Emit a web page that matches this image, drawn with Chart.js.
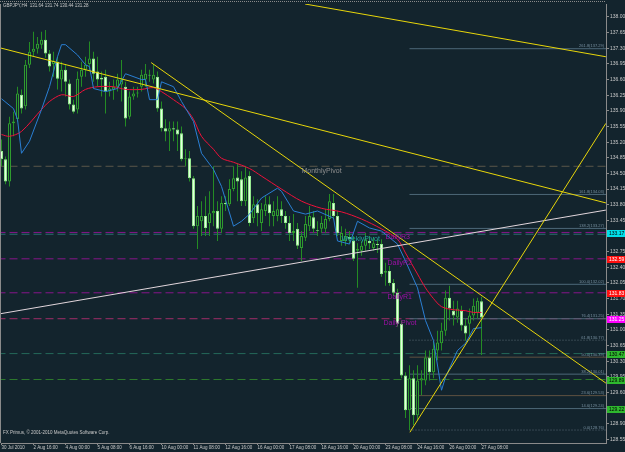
<!DOCTYPE html>
<html>
<head>
<meta charset="utf-8">
<script src="https://cdn.jsdelivr.net/npm/chart.js@4.4.1/dist/chart.umd.min.js"></script>
<style>
  html, body { margin: 0; padding: 0; background: #13242d; }
  canvas { display: block; }
</style>
</head>
<body>
<canvas id="chart" width="625" height="452"></canvas>
<script>
// GBPJPY H4, 30 Jul - 27 Aug 2010 (MetaTrader screenshot)
const symbolTitle = 'GBPJPY,H4  131.64 131.74 130.44 131.28';
const brokerText = 'FX Primus, \u00a9 2001-2010 MetaQuotes Software Corp.';

// time labels, one every 8 bars
const tickBars = [0, 8, 16, 24, 32, 40, 48, 56, 64, 72, 80, 88, 96, 104, 112, 120];
const timeLabels = ['30 Jul 2010', '2 Aug 16:00', '4 Aug 00:00', '5 Aug 08:00', '6 Aug 16:00',
  '10 Aug 00:00', '11 Aug 08:00', '12 Aug 16:00', '16 Aug 00:00', '17 Aug 08:00', '18 Aug 16:00',
  '20 Aug 00:00', '23 Aug 08:00', '24 Aug 16:00', '26 Aug 00:00', '27 Aug 08:00'];

const priceTicks = [128.55, 128.90, 129.25, 129.60, 129.95, 130.30, 130.65, 131.00, 131.35, 131.70,
  132.05, 132.40, 132.75, 133.10, 133.45, 133.80, 134.15, 134.50, 134.85, 135.20, 135.55, 135.90,
  136.25, 136.60, 136.95, 137.30, 137.65, 138.00];

// candles
const opens = [
  135.00, 134.82, 134.32, 135.62, 135.71, 136.26, 136.00, 136.93, 137.22, 137.29,
  137.38, 137.49, 137.18, 136.95, 137.00, 136.60, 136.82, 136.51, 136.04, 135.93,
  136.66, 136.82, 136.95, 137.07, 136.78, 136.64, 136.66, 136.33, 136.38, 136.44,
  136.49, 136.44, 135.77, 136.22, 136.29, 136.44, 136.60, 136.71, 136.60, 136.66,
  135.95, 135.51, 135.44, 135.51, 135.48, 135.40, 134.82, 134.84, 134.39, 133.32,
  133.43, 133.55, 133.39, 133.61, 133.66, 133.26, 133.84, 133.81, 134.15, 134.41,
  134.37, 133.88, 134.44, 133.50, 133.81, 133.39, 133.66, 133.81, 133.55, 133.55,
  133.70, 133.55, 133.39, 133.17, 133.26, 132.83, 133.06, 133.32, 133.52, 133.23,
  133.26, 133.26, 133.48, 133.84, 133.55, 132.99, 132.99, 133.08, 132.99, 132.77,
  132.77, 132.88, 132.99, 132.83, 132.92, 132.92, 132.28, 132.32, 132.05, 131.83,
  131.14, 129.98, 129.20, 129.92, 129.09, 129.87, 129.87, 130.38, 130.05, 130.54,
  130.70, 130.98, 131.72, 131.43, 131.28, 131.43, 131.10, 131.14, 131.32, 131.39,
  131.64];
const highs = [
  135.26, 134.88, 135.77, 135.88, 136.44, 136.38, 137.04, 137.44, 137.67, 137.55,
  137.67, 137.71, 137.26, 137.22, 137.11, 137.00, 136.95, 136.60, 136.15, 136.78,
  137.00, 137.11, 137.45, 137.22, 137.11, 136.78, 136.82, 136.55, 136.60, 136.73,
  137.04, 136.55, 136.33, 136.44, 136.44, 136.82, 136.95, 136.82, 136.95, 136.78,
  136.11, 135.71, 135.66, 135.66, 135.66, 135.55, 135.04, 135.00, 134.44, 133.77,
  133.88, 133.99, 134.10, 134.66, 133.88, 133.99, 133.99, 134.37, 134.66, 134.73,
  134.55, 134.66, 134.55, 133.99, 133.92, 133.84, 133.99, 133.99, 133.88, 133.99,
  133.88, 133.66, 133.55, 133.59, 133.39, 133.21, 133.55, 133.77, 133.66, 133.43,
  133.55, 133.70, 134.04, 134.04, 133.66, 133.32, 133.26, 133.21, 133.10, 132.94,
  132.99, 133.17, 133.10, 133.08, 133.03, 133.03, 132.50, 132.43, 132.14, 131.92,
  131.21, 130.05, 130.21, 130.10, 130.21, 130.10, 130.54, 130.54, 130.76, 130.98,
  131.16, 131.88, 131.99, 131.65, 131.65, 131.54, 131.25, 131.48, 131.70, 131.72,
  131.74];
const lows = [
  134.66, 134.26, 134.21, 135.33, 135.66, 135.84, 135.93, 136.86, 137.11, 137.18,
  137.29, 137.09, 136.78, 136.66, 136.38, 136.33, 136.22, 135.93, 135.84, 135.84,
  136.44, 136.66, 136.78, 136.55, 136.44, 136.22, 135.84, 136.22, 136.15, 136.33,
  136.11, 135.55, 135.71, 136.15, 136.20, 136.33, 136.44, 136.55, 136.51, 135.88,
  135.44, 135.22, 135.00, 135.22, 135.00, 134.77, 134.66, 134.32, 133.26, 132.81,
  133.10, 133.10, 133.10, 133.32, 132.99, 133.17, 133.66, 133.77, 134.10, 133.88,
  133.77, 133.77, 133.32, 133.39, 133.32, 133.21, 133.55, 133.32, 133.32, 133.43,
  133.39, 133.26, 132.99, 132.99, 132.81, 132.54, 132.99, 133.21, 133.17, 133.10,
  133.17, 133.17, 133.43, 133.48, 133.10, 132.88, 132.88, 132.94, 132.54, 131.94,
  132.66, 132.77, 132.81, 132.77, 132.72, 132.19, 131.99, 131.99, 131.76, 131.07,
  129.92, 129.03, 128.76, 128.87, 128.98, 129.54, 129.76, 129.87, 129.92, 130.32,
  130.54, 130.87, 131.21, 131.10, 131.16, 130.98, 130.76, 130.87, 131.21, 131.25,
  130.44];
const closes = [
  134.82, 134.32, 135.62, 135.66, 136.29, 135.95, 136.93, 137.22, 137.29, 137.40,
  137.49, 137.18, 136.89, 137.02, 136.62, 136.82, 136.55, 136.04, 135.88, 136.62,
  136.82, 136.93, 137.07, 136.73, 136.60, 136.60, 136.33, 136.40, 136.44, 136.60,
  136.60, 135.73, 136.22, 136.29, 136.31, 136.71, 136.73, 136.69, 136.71, 135.95,
  135.51, 135.44, 135.51, 135.48, 135.37, 134.82, 134.84, 134.39, 133.32, 133.55,
  133.55, 133.28, 133.61, 133.66, 133.26, 133.84, 133.81, 134.15, 134.39, 134.32,
  133.88, 134.41, 133.39, 133.81, 133.61, 133.70, 133.81, 133.61, 133.66, 133.70,
  133.55, 133.39, 133.17, 133.21, 132.88, 133.10, 133.37, 133.55, 133.26, 133.21,
  133.39, 133.48, 133.88, 133.55, 133.17, 133.17, 133.10, 133.03, 132.59, 132.81,
  132.88, 133.03, 132.94, 132.94, 132.90, 132.25, 132.32, 132.05, 131.83, 131.14,
  129.98, 129.20, 129.92, 129.09, 129.87, 129.92, 130.38, 130.05, 130.58, 130.72,
  130.98, 131.72, 131.48, 131.32, 131.48, 131.10, 130.92, 131.32, 131.54, 131.65,
  131.28];

// slow (red) moving average, read at these bars
const maSlowBars = [0, 2, 5, 10, 12, 15, 18, 21, 24, 28, 31, 35, 38, 40, 43, 46, 48, 50, 53, 55,
  58, 62, 65, 70, 75, 80, 85, 90, 95, 99, 101, 104, 106, 108, 110, 113, 116, 118, 120];
const maSlowVals = [135.37, 135.33, 135.44, 135.93, 136.11, 136.26, 136.22, 136.38, 136.44, 136.44,
  136.38, 136.38, 136.42, 136.33, 136.15, 135.95, 135.71, 135.33, 135.04, 134.84,
  134.75, 134.61, 134.44, 134.15, 133.88, 133.72, 133.64, 133.48, 133.26, 133.03,
  132.72, 132.25, 131.94, 131.70, 131.52, 131.45, 131.43, 131.39, 131.39];

// fast (blue) line
const maFastBars = [0, 3, 4, 5, 7, 10, 12, 14, 15, 16, 19, 21, 22, 23, 26, 29, 31, 35, 36, 37,
  39, 40, 43, 45, 48, 50, 53, 55, 58, 60, 62, 65, 69, 70, 73, 76, 79, 83, 84, 87,
  89, 92, 95, 99, 101, 104, 106, 108, 110, 111, 114, 116, 118, 120];
const maFastVals = [136.17, 135.95, 135.71, 134.95, 135.22, 135.93, 136.44, 137.11, 137.38, 137.38,
  137.15, 136.93, 136.89, 136.40, 136.33, 136.40, 136.73, 136.60, 136.60, 136.15,
  136.15, 136.55, 136.44, 136.11, 135.66, 134.95, 134.59, 134.21, 133.32, 133.43,
  133.59, 133.95, 134.17, 134.10, 133.66, 133.59, 133.66, 133.50, 132.99, 132.92,
  133.43, 133.28, 133.21, 132.92, 132.54, 131.94, 131.21, 130.76, 129.65, 129.94,
  130.54, 130.70, 131.03, 131.05];

// pivot levels
const levelNames = ['MonthlyPivot', 'WeeklyPivot', 'DailyR3', 'DailyR2', 'DailyR1', 'Daily Pivot', '', ''];
const levelPrices = [134.66, 133.14, 133.18, 132.59, 131.83, 131.25, 130.47, 129.89];
const levelLabelBars = [75, 85, 96, 96.5, 96.5, 95.5, null, null];

// fibonacci from the 24 Aug low
const fibStartBar = 102;
const fibRatios = ['0.0', '14.6', '23.6', '38.2', '50.0', '61.8', '76.4', '100.0', '138.2', '161.8', '261.8'];
const fibPrices = [128.76, 129.24, 129.53, 130.01, 130.39, 130.77, 131.25, 132.02, 133.27, 134.03, 137.29];

// trend lines: start bar/price, end bar/price
const trendBarA = [-0.4, 75.9, 37.4, 102.1, -0.4];
const trendPriceA = [137.31, 138.29, 136.98, 128.71, 131.36];
const trendBarB = [151.1, 151.1, 151.1, 151.1, 151.1];
const trendPriceB = [133.84, 137.11, 129.81, 135.62, 133.68];

// price marks on the right axis
const axisMarkPrices = [133.17, 132.59, 131.83, 131.25, 130.47, 129.89, 129.22];

const BG = '#13242d';
const trendColors = ['#e8d60a', '#e8d60a', '#e8d60a', '#e8d60a', '#e2d6dc'];
const levelColors = ['#5a574a', '#2c6e74', '#86158a', '#86158a', '#86158a', '#a02c68', '#24695a', '#2e7a2e'];
const levelTextColors = ['#8e8e8e', '#1ea0a0', '#a010a8', '#a010a8', '#a010a8', '#a010a8'];
const fibColors = ['#5a6a74', '#4d6878', '#5e5040', '#4d6878', '#5e5040', '#5a6a74', '#4d6878', '#4d6878', '#4d6878', '#4d6878', '#4d6878'];
const fibDotted = [true, false, false, false, false, true, false, false, false, false, false];
const markColors = ['#00e0ea', '#ff1010', '#ff1010', '#ff00ff', '#2eb82e', '#2eb82e', '#2eb82e'];
const markText = ['#000000', '#ffffff', '#ffffff', '#ffffff', '#000000', '#000000', '#000000'];

const FONT = '"Liberation Sans", Arial, sans-serif';
const bars = opens.map((_, i) => i);
const isBull = i => closes[i] >= opens[i];

const datasets = [];

trendBarA.forEach((b, k) => {
  datasets.push({
    type: 'line', order: 1,
    data: [{ x: b, y: trendPriceA[k] }, { x: trendBarB[k], y: trendPriceB[k] }],
    borderColor: trendColors[k], borderWidth: 1, pointRadius: 0, tension: 0
  });
});

datasets.push({
  type: 'line', order: 2,
  data: maFastBars.map((b, k) => ({ x: b, y: maFastVals[k] })),
  borderColor: '#2a7fd4', borderWidth: 1, pointRadius: 0, tension: 0
});
datasets.push({
  type: 'line', order: 2,
  data: maSlowBars.map((b, k) => ({ x: b, y: maSlowVals[k] })),
  borderColor: '#f0103a', borderWidth: 1, pointRadius: 0, tension: 0.3
});

datasets.push({
  type: 'bar', order: 3, grouped: false,
  data: bars.map(i => ({ x: i, y: [opens[i], closes[i]] })),
  barThickness: 3, borderWidth: 1, borderSkipped: false, inflateAmount: 0,
  backgroundColor: c => isBull(c.dataIndex) ? BG : '#e4ffe0',
  borderColor: c => isBull(c.dataIndex) ? '#2f9c2f' : '#96e890'
});
datasets.push({
  type: 'bar', order: 4, grouped: false,
  data: bars.map(i => ({ x: i, y: [lows[i], highs[i]] })),
  barThickness: 1, borderWidth: 0, inflateAmount: 0,
  backgroundColor: '#248c24'
});

fibPrices.forEach((p, k) => {
  datasets.push({
    type: 'line', order: 5,
    data: [{ x: fibStartBar, y: p }, { x: 152, y: p }],
    borderColor: fibColors[k], borderWidth: 1, pointRadius: 0,
    borderDash: fibDotted[k] ? [1, 2] : []
  });
});

levelPrices.forEach((p, k) => {
  datasets.push({
    type: 'line', order: 6,
    data: [{ x: -1, y: p }, { x: 152, y: p }],
    borderColor: levelColors[k], borderWidth: 1, pointRadius: 0,
    borderDash: [8, 4]
  });
});

const chartDecor = {
  id: 'chartDecor',
  beforeDraw(chart) {
    const { ctx, width, height } = chart;
    ctx.save();
    ctx.fillStyle = BG;
    ctx.fillRect(0, 0, width, height);
    ctx.restore();
  },
  afterDatasetsDraw(chart) {
    const { ctx, chartArea: a, scales: { x, y } } = chart;
    ctx.save();
    // frame
    ctx.strokeStyle = '#8a8a8a';
    ctx.lineWidth = 1;
    ctx.beginPath();
    ctx.moveTo(0.5, a.top);
    ctx.lineTo(0.5, a.bottom);
    ctx.stroke();
    ctx.setLineDash([1, 1]);
    ctx.beginPath();
    ctx.moveTo(0, 1.5);
    ctx.lineTo(a.right, 1.5);
    ctx.stroke();
    ctx.setLineDash([]);

    // pivot names
    ctx.textBaseline = 'top';
    ctx.textAlign = 'left';
    ctx.font = '7px ' + FONT;
    levelNames.forEach((name, k) => {
      if (!name) return;
      ctx.fillStyle = levelTextColors[k];
      ctx.fillText(name, x.getPixelForValue(levelLabelBars[k]), y.getPixelForValue(levelPrices[k]) + 1);
    });

    // fib captions
    ctx.font = '4px ' + FONT;
    ctx.textAlign = 'right';
    ctx.textBaseline = 'bottom';
    ctx.fillStyle = '#7890a0';
    fibPrices.forEach((p, k) => {
      ctx.fillText(fibRatios[k] + '(' + p.toFixed(2) + ')', a.right - 2, y.getPixelForValue(p) - 0.5);
    });

    // title and broker line
    ctx.textAlign = 'left';
    ctx.textBaseline = 'top';
    ctx.fillStyle = '#c8c8c8';
    ctx.font = '4.5px ' + FONT;
    ctx.fillText(symbolTitle, 3, 4);
    ctx.fillText(brokerText, 3, a.bottom - 12);
    ctx.restore();
  },
  afterDraw(chart) {
    const { ctx, chartArea: a, scales: { y }, width } = chart;
    ctx.save();
    ctx.font = '5px ' + FONT;
    ctx.textBaseline = 'middle';
    ctx.textAlign = 'left';
    axisMarkPrices.forEach((p, k) => {
      const py = Math.round(y.getPixelForValue(p));
      ctx.fillStyle = markColors[k];
      ctx.fillRect(a.right + 1, py - 3, width - a.right - 1, 7);
      ctx.fillStyle = markText[k];
      ctx.fillText(p.toFixed(2), a.right + 3, py + 0.5);
    });
    ctx.restore();
  }
};

new Chart(document.getElementById('chart'), {
  type: 'bar',
  data: { datasets },
  options: {
    responsive: false,
    animation: false,
    events: [],
    layout: { padding: { left: 1, top: 2, right: 0, bottom: 0 } },
    plugins: { legend: { display: false }, tooltip: { enabled: false } },
    scales: {
      x: {
        type: 'linear', min: -0.125, max: 151.125, offset: false,
        grid: { drawOnChartArea: false, drawTicks: true, tickLength: 2, color: '#8a8a8a', offset: false },
        border: { display: true, color: '#8a8a8a', dash: [1, 1] },
        ticks: {
          autoSkip: false, maxRotation: 0, align: 'start', padding: 0,
          color: '#c8c8c8', font: { family: FONT, size: 4.5 },
          callback: (v, k) => timeLabels[k]
        },
        afterBuildTicks: s => { s.ticks = tickBars.map(v => ({ value: v })); },
        afterFit: s => { s.height = 9; }
      },
      y: {
        position: 'right', min: 128.47, max: 138.29,
        grid: { drawOnChartArea: false, drawTicks: true, tickLength: 3, color: '#8a8a8a' },
        border: { display: true, color: '#8a8a8a' },
        ticks: {
          autoSkip: false, padding: 1, color: '#c8c8c8',
          font: { family: FONT, size: 5 },
          callback: v => Number(v).toFixed(2)
        },
        afterBuildTicks: s => { s.ticks = priceTicks.map(v => ({ value: v })); },
        afterFit: s => { s.width = 19; }
      }
    }
  },
  plugins: [chartDecor]
});
</script>
</body>
</html>
